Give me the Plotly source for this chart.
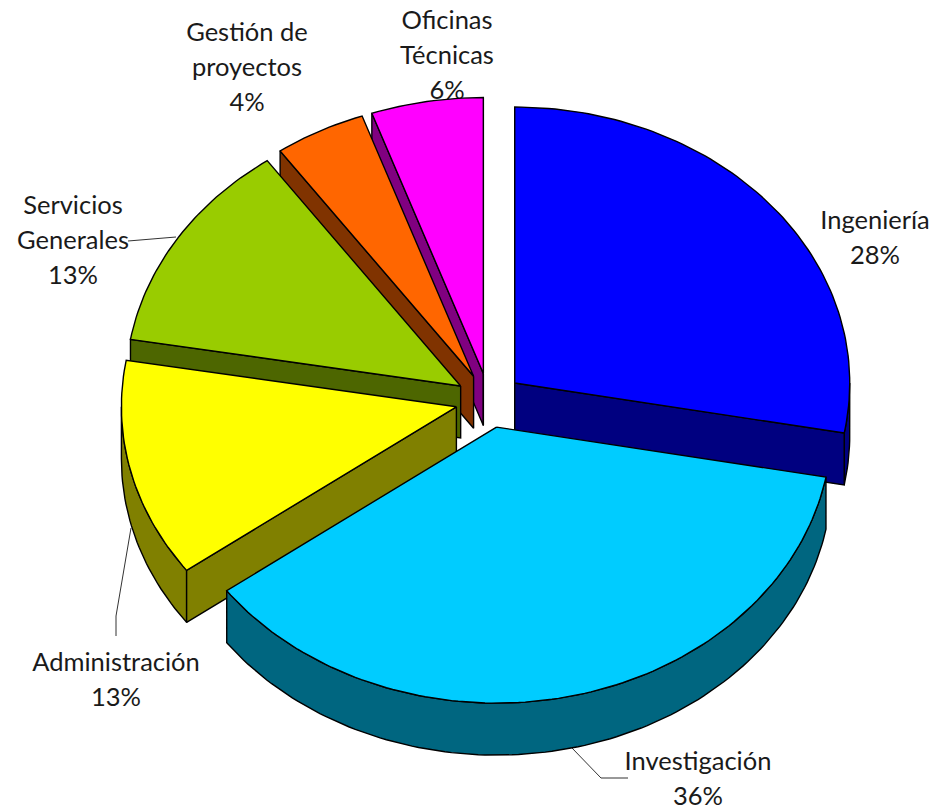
import math
import plotly.graph_objects as go

# ---- data ----
categories = ["Ingeniería", "Investigación", "Administración", "Servicios Generales", "Gestión de proyectos", "Oficinas Técnicas"]
shares = [27.9, 37.0, 12.8, 12.5, 4.4, 5.4]
percent_labels = ["28%", "36%", "13%", "13%", "4%", "6%"]
top_colors = ["#0000FF", "#00CCFF", "#FFFF00", "#99CC00", "#FF6600", "#FF00FF"]
wall_colors = ["#000080", "#006680", "#808000", "#4D6600", "#803300", "#800080"]

label_lines = [["Ingeniería"], ["Investigación"], ["Administración"],
               ["Servicios", "Generales"], ["Gestión de", "proyectos"], ["Oficinas", "Técnicas"]]
label_xy = [(875, 223), (698, 764), (116, 665), (73, 208), (247, 35), (447, 23)]
leaders = [None, [(628, 778), (601, 778), (572, 748)], [(116, 636), (116, 616), (131, 528)],
           [(128, 241), (176, 237)], None, None]

# ---- projection of the tilted pie ----
CX, CY, RX, RY = 489.0, 400.5, 335.0, 276.0
EX, EY, DEPTH = 33.5, 27.3, 52.0
LINE_STEP = 35
W, H = 948, 810
FONT = dict(family="Lato, 'Open Sans', sans-serif", size=25.5, color="#1a1a1a")


def project(angle, ax, ay):
    return ax + RX * math.sin(angle), ay - RY * math.cos(angle)


fig = go.Figure()

# labels first, so slices may overlap them as in the source
for lines, pct, (lx, ly) in zip(label_lines, percent_labels, label_xy):
    rows = lines + [pct]
    fig.add_trace(go.Scatter(
        x=[lx] * len(rows), y=[ly + i * LINE_STEP for i in range(len(rows))],
        text=rows, mode="text", textposition="middle center",
        textfont=FONT, hoverinfo="skip", showlegend=False))

for path in leaders:
    if path:
        fig.add_trace(go.Scatter(x=[p[0] for p in path], y=[p[1] for p in path], mode="lines",
                                 line=dict(color="#333333", width=1), hoverinfo="skip", showlegend=False))

total = sum(shares)
slices = []
start = 0.0
for i, share in enumerate(shares):
    sweep = share / total * 2 * math.pi
    slices.append((i, start, start + sweep))
    start += sweep


def poly(xs, ys, color, name):
    fig.add_trace(go.Scatter(x=xs, y=ys, mode="lines", fill="toself", fillcolor=color,
                             line=dict(color="black", width=1.4), name=name, showlegend=False,
                             hoverinfo="name"))


# painter's order: back slices to front slices
for i, a0, a1 in [slices[k] for k in (5, 4, 3, 0, 2, 1)]:
    mid = (a0 + a1) / 2
    ax = CX + EX * math.sin(mid)
    ay = CY - EY * math.cos(mid)
    n = max(int((a1 - a0) / 0.02), 2)
    wall = wall_colors[i]

    # outer wall: only the part of the rim facing the viewer
    w0, w1 = max(a0, math.pi / 2), min(a1, 3 * math.pi / 2)
    if w1 > w0:
        m = max(int((w1 - w0) / 0.02), 2)
        rim = [project(w0 + (w1 - w0) * k / m, ax, ay) for k in range(m + 1)]
        xs = [p[0] for p in rim] + [p[0] for p in reversed(rim)] + [rim[0][0]]
        ys = [p[1] for p in rim] + [p[1] + DEPTH for p in reversed(rim)] + [rim[0][1]]
        poly(xs, ys, wall, categories[i])

    # radial walls: only those facing the viewer (edge-on ones show as a line)
    s0, s1 = math.sin(a0), math.sin(a1)
    for ang, visible in ((a0, s0 < 0.01), (a1, s1 > -0.01)):
        if visible:
            px, py = project(ang, ax, ay)
            poly([ax, px, px, ax, ax], [ay, py, py + DEPTH, ay + DEPTH, ay], wall, categories[i])

    # top face
    arc = [project(a0 + (a1 - a0) * k / n, ax, ay) for k in range(n + 1)]
    poly([ax] + [p[0] for p in arc] + [ax], [ay] + [p[1] for p in arc] + [ay], top_colors[i], categories[i])

fig.update_layout(
    width=W, height=H, autosize=False, margin=dict(l=0, r=0, t=0, b=0),
    paper_bgcolor="white", plot_bgcolor="white", showlegend=False,
    xaxis=dict(range=[0, W], visible=False, fixedrange=True),
    yaxis=dict(range=[H, 0], visible=False, fixedrange=True),
)
fig.write_html("out.html", config={"displayModeBar": False},
               post_script="document.body.style.margin='0';document.documentElement.style.overflow='hidden';")
